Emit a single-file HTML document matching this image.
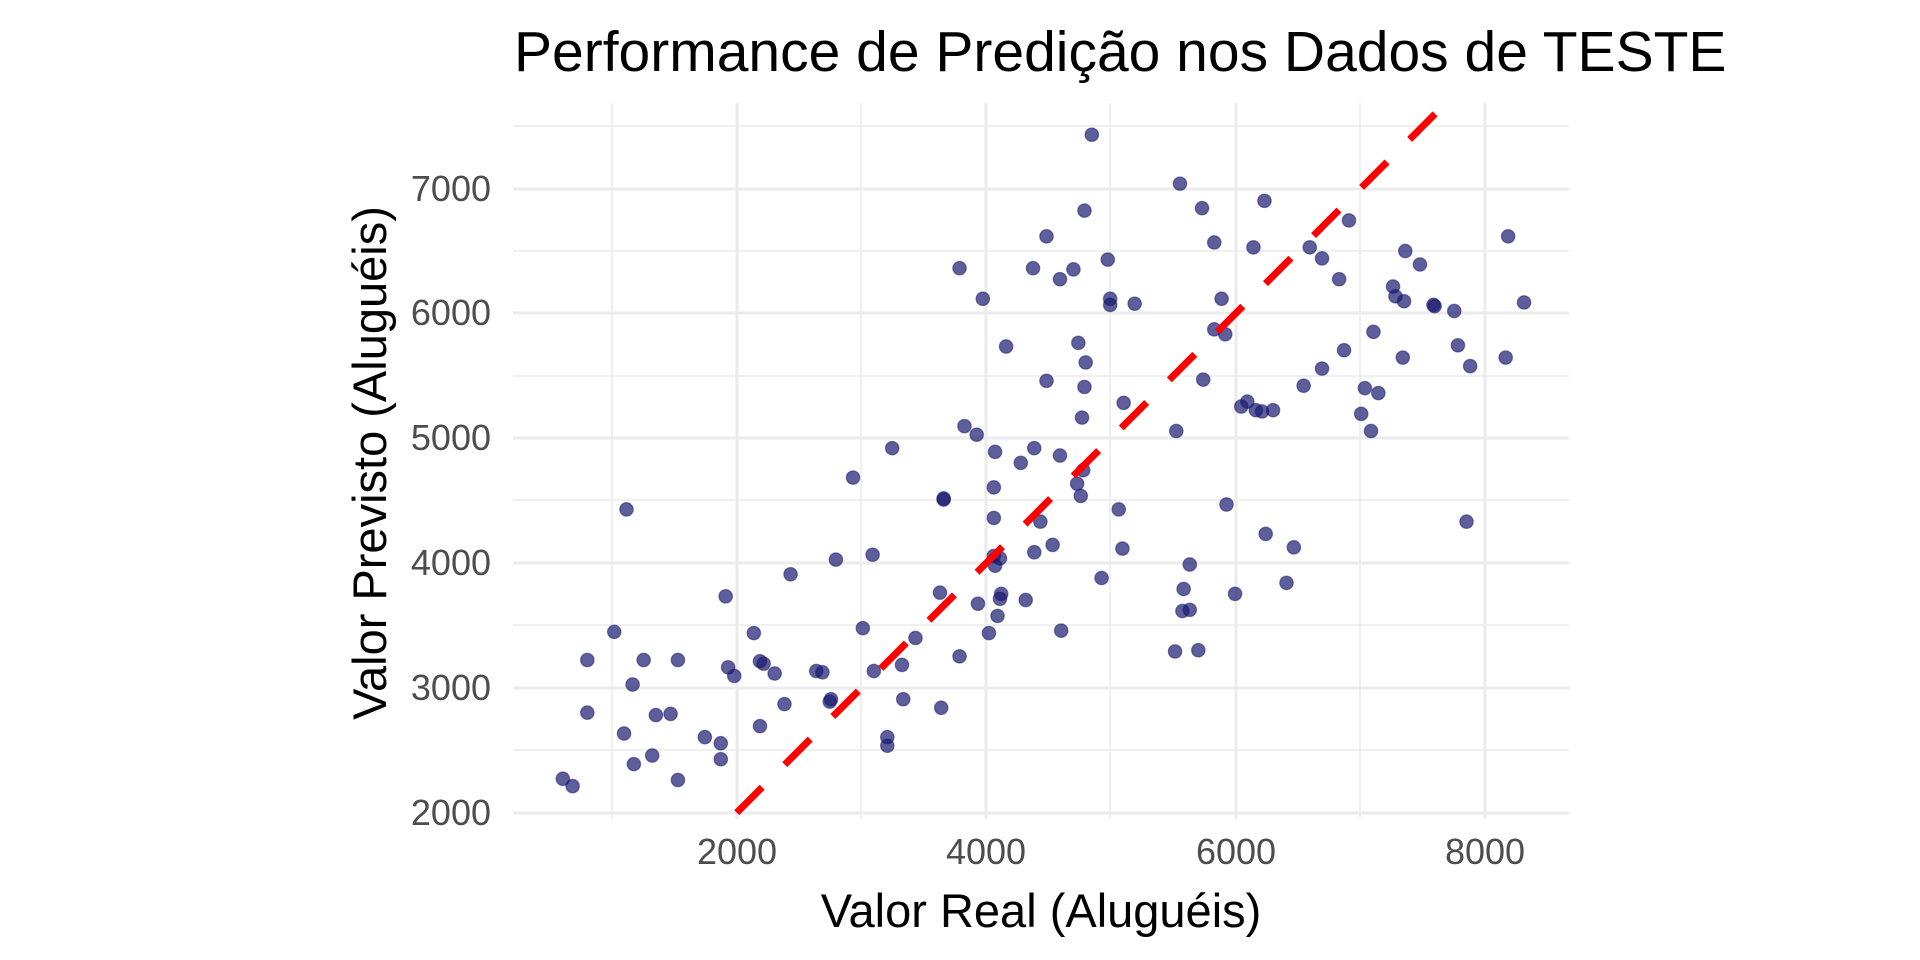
<!DOCTYPE html>
<html><head><meta charset="utf-8"><style>
html,body{margin:0;padding:0;background:#fff;}
svg{display:block;font-family:"Liberation Sans",sans-serif;}
</style></head><body>
<svg width="1920" height="960" viewBox="0 0 1920 960" xmlns="http://www.w3.org/2000/svg">
<rect width="1920" height="960" fill="#fff"/>
<g stroke="#ebebeb" stroke-width="1.5">
<line x1="612" y1="103" x2="612" y2="819"/><line x1="861" y1="103" x2="861" y2="819"/><line x1="1110" y1="103" x2="1110" y2="819"/><line x1="1360" y1="103" x2="1360" y2="819"/>
<line x1="513" y1="126" x2="1569" y2="126"/><line x1="513" y1="251" x2="1569" y2="251"/><line x1="513" y1="376" x2="1569" y2="376"/><line x1="513" y1="500" x2="1569" y2="500"/><line x1="513" y1="625" x2="1569" y2="625"/><line x1="513" y1="750" x2="1569" y2="750"/>
</g>
<g stroke="#ebebeb" stroke-width="3">
<line x1="737" y1="103" x2="737" y2="819"/><line x1="986" y1="103" x2="986" y2="819"/><line x1="1236" y1="103" x2="1236" y2="819"/><line x1="1485" y1="103" x2="1485" y2="819"/>
<line x1="513" y1="189" x2="1569" y2="189"/><line x1="513" y1="313" x2="1569" y2="313"/><line x1="513" y1="438" x2="1569" y2="438"/><line x1="513" y1="563" x2="1569" y2="563"/><line x1="513" y1="688" x2="1569" y2="688"/><line x1="513" y1="813" x2="1569" y2="813"/>
</g>
<g transform="translate(2,0) scale(1.2245)" fill="#191970" fill-opacity="0.7" stroke="#191970" stroke-opacity="0.5" stroke-width="1">
<circle cx="458" cy="636" r="5.5"/><circle cx="466" cy="642" r="5.5"/><circle cx="478" cy="539" r="5.5"/><circle cx="478" cy="582" r="5.5"/><circle cx="500" cy="516" r="5.5"/><circle cx="508" cy="599" r="5.5"/><circle cx="510" cy="416" r="5.5"/><circle cx="515" cy="559" r="5.5"/><circle cx="516" cy="624" r="5.5"/><circle cx="524" cy="539" r="5.5"/><circle cx="534" cy="584" r="5.5"/><circle cx="531" cy="617" r="5.5"/><circle cx="546" cy="583" r="5.5"/><circle cx="552" cy="539" r="5.5"/><circle cx="552" cy="637" r="5.5"/><circle cx="574" cy="602" r="5.5"/><circle cx="587" cy="607" r="5.5"/><circle cx="587" cy="620" r="5.5"/><circle cx="591" cy="487" r="5.5"/><circle cx="593" cy="545" r="5.5"/><circle cx="598" cy="552" r="5.5"/><circle cx="614" cy="517" r="5.5"/><circle cx="619" cy="593" r="5.5"/><circle cx="619" cy="540" r="5.5"/><circle cx="622" cy="542" r="5.5"/><circle cx="631" cy="550" r="5.5"/><circle cx="639" cy="575" r="5.5"/><circle cx="644" cy="469" r="5.5"/><circle cx="665" cy="548" r="5.5"/><circle cx="670" cy="549" r="5.5"/><circle cx="676" cy="573" r="5.5"/><circle cx="677" cy="571" r="5.5"/><circle cx="681" cy="457" r="5.5"/><circle cx="695" cy="390" r="5.5"/><circle cx="703" cy="513" r="5.5"/><circle cx="711" cy="453" r="5.5"/><circle cx="712" cy="548" r="5.5"/><circle cx="723" cy="602" r="5.5"/><circle cx="723" cy="609" r="5.5"/><circle cx="727" cy="366" r="5.5"/><circle cx="735" cy="543" r="5.5"/><circle cx="736" cy="571" r="5.5"/><circle cx="746" cy="521" r="5.5"/><circle cx="766" cy="484" r="5.5"/><circle cx="767" cy="578" r="5.5"/><circle cx="769" cy="407" r="5.5"/><circle cx="769" cy="408" r="5.5"/><circle cx="782" cy="219" r="5.5"/><circle cx="782" cy="536" r="5.5"/><circle cx="786" cy="348" r="5.5"/><circle cx="796" cy="355" r="5.5"/><circle cx="797" cy="493" r="5.5"/><circle cx="801" cy="244" r="5.5"/><circle cx="806" cy="517" r="5.5"/><circle cx="810" cy="398" r="5.5"/><circle cx="810" cy="423" r="5.5"/><circle cx="810" cy="454" r="5.5"/><circle cx="811" cy="369" r="5.5"/><circle cx="813" cy="503" r="5.5"/><circle cx="811" cy="462" r="5.5"/><circle cx="815" cy="489" r="5.5"/><circle cx="816" cy="485" r="5.5"/><circle cx="815" cy="456" r="5.5"/><circle cx="820" cy="283" r="5.5"/><circle cx="832" cy="378" r="5.5"/><circle cx="836" cy="490" r="5.5"/><circle cx="842" cy="219" r="5.5"/><circle cx="843" cy="366" r="5.5"/><circle cx="843" cy="451" r="5.5"/><circle cx="848" cy="426" r="5.5"/><circle cx="853" cy="311" r="5.5"/><circle cx="853" cy="193" r="5.5"/><circle cx="858" cy="445" r="5.5"/><circle cx="864" cy="228" r="5.5"/><circle cx="864" cy="372" r="5.5"/><circle cx="865" cy="515" r="5.5"/><circle cx="875" cy="220" r="5.5"/><circle cx="878" cy="395" r="5.5"/><circle cx="879" cy="280" r="5.5"/><circle cx="881" cy="405" r="5.5"/><circle cx="882" cy="341" r="5.5"/><circle cx="883" cy="384" r="5.5"/><circle cx="884" cy="172" r="5.5"/><circle cx="884" cy="316" r="5.5"/><circle cx="885" cy="296" r="5.5"/><circle cx="890" cy="110" r="5.5"/><circle cx="898" cy="472" r="5.5"/><circle cx="903" cy="212" r="5.5"/><circle cx="905" cy="244" r="5.5"/><circle cx="905" cy="249" r="5.5"/><circle cx="912" cy="416" r="5.5"/><circle cx="915" cy="448" r="5.5"/><circle cx="916" cy="329" r="5.5"/><circle cx="925" cy="248" r="5.5"/><circle cx="958" cy="532" r="5.5"/><circle cx="959" cy="352" r="5.5"/><circle cx="962" cy="150" r="5.5"/><circle cx="964" cy="499" r="5.5"/><circle cx="965" cy="481" r="5.5"/><circle cx="970" cy="461" r="5.5"/><circle cx="970" cy="498" r="5.5"/><circle cx="977" cy="531" r="5.5"/><circle cx="980" cy="170" r="5.5"/><circle cx="981" cy="310" r="5.5"/><circle cx="990" cy="269" r="5.5"/><circle cx="990" cy="198" r="5.5"/><circle cx="996" cy="244" r="5.5"/><circle cx="999" cy="273" r="5.5"/><circle cx="1000" cy="412" r="5.5"/><circle cx="1007" cy="485" r="5.5"/><circle cx="1012" cy="332" r="5.5"/><circle cx="1017" cy="328" r="5.5"/><circle cx="1022" cy="202" r="5.5"/><circle cx="1024" cy="335" r="5.5"/><circle cx="1029" cy="336" r="5.5"/><circle cx="1031" cy="164" r="5.5"/><circle cx="1038" cy="335" r="5.5"/><circle cx="1032" cy="436" r="5.5"/><circle cx="1049" cy="476" r="5.5"/><circle cx="1055" cy="447" r="5.5"/><circle cx="1063" cy="315" r="5.5"/><circle cx="1068" cy="202" r="5.5"/><circle cx="1078" cy="211" r="5.5"/><circle cx="1078" cy="301" r="5.5"/><circle cx="1092" cy="228" r="5.5"/><circle cx="1096" cy="286" r="5.5"/><circle cx="1100" cy="180" r="5.5"/><circle cx="1110" cy="338" r="5.5"/><circle cx="1113" cy="317" r="5.5"/><circle cx="1118" cy="352" r="5.5"/><circle cx="1120" cy="271" r="5.5"/><circle cx="1124" cy="321" r="5.5"/><circle cx="1136" cy="234" r="5.5"/><circle cx="1138" cy="242" r="5.5"/><circle cx="1145" cy="246" r="5.5"/><circle cx="1144" cy="292" r="5.5"/><circle cx="1146" cy="205" r="5.5"/><circle cx="1158" cy="216" r="5.5"/><circle cx="1169" cy="249" r="5.5"/><circle cx="1170" cy="250" r="5.5"/><circle cx="1186" cy="254" r="5.5"/><circle cx="1189" cy="282" r="5.5"/><circle cx="1196" cy="426" r="5.5"/><circle cx="1199" cy="299" r="5.5"/><circle cx="1228" cy="292" r="5.5"/><circle cx="1230" cy="193" r="5.5"/><circle cx="1243" cy="247" r="5.5"/>
</g>
<line x1="736.7" y1="812.7" x2="1446" y2="103" stroke="#ff0000" stroke-width="7" stroke-dasharray="36 32"/>
<g fill="#4d4d4d" font-size="36">
<g text-anchor="end"><text x="491" y="825">2000</text><text x="491" y="700">3000</text><text x="491" y="575">4000</text><text x="491" y="450">5000</text><text x="491" y="325">6000</text><text x="491" y="201">7000</text></g>
<g text-anchor="middle"><text x="737" y="864">2000</text><text x="986" y="864">4000</text><text x="1236" y="864">6000</text><text x="1485" y="864">8000</text></g>
</g>
<text x="1041" y="927" text-anchor="middle" font-size="47" fill="#000">Valor Real (Aluguéis)</text>
<text transform="translate(386,463) rotate(-90)" text-anchor="middle" font-size="47" fill="#000">Valor Previsto (Aluguéis)</text>
<text x="514" y="71" font-size="57" fill="#000">Performance de Predição nos Dados de TESTE</text>
</svg>
</body></html>
